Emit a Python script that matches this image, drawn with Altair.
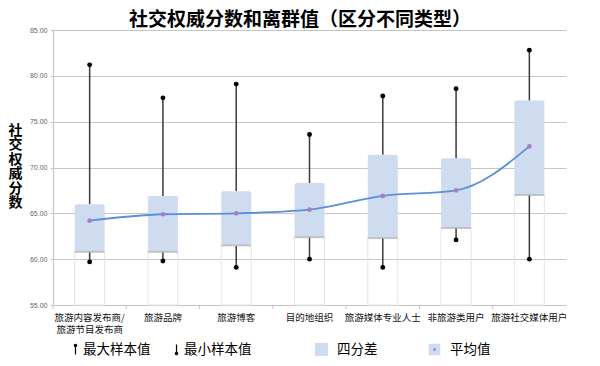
import altair as alt
import pandas as pd

cats = ["旅游内容发布商/旅游节目发布商", "旅游品牌", "旅游博客", "目的地组织",
        "旅游媒体专业人士", "非旅游类用户", "旅游社交媒体用户"]
max_vals = [81.2, 77.6, 79.1, 73.6, 77.8, 78.6, 82.8]
q3_vals = [66.0, 66.9, 67.4, 68.3, 71.4, 71.0, 77.3]
q1_vals = [60.8, 60.8, 61.5, 62.4, 62.3, 63.4, 67.0]
min_vals = [59.7, 59.8, 59.1, 60.0, 59.1, 62.1, 60.0]
mean_vals = [64.2, 64.9, 65.0, 65.4, 66.9, 67.5, 72.3]
y_ticks = [55, 60, 65, 70, 75, 80, 85]
legend_items = ["最大样本值", "最小样本值", "四分差", "平均值"]

df = pd.DataFrame({
    "cat": cats, "max": max_vals, "q3": q3_vals, "q1": q1_vals,
    "min": min_vals, "mean": mean_vals, "floor": [55] * len(cats),
})
leg_df = pd.DataFrame({"item": legend_items})

FONT = "Noto Sans CJK SC"
BOX = "#cfdcf0"
PURPLE = "#a47fc8"

x_enc = alt.X(
    "cat:N", sort=cats, title=None,
    scale=alt.Scale(paddingInner=0, paddingOuter=0, range=[0, 513]),
    axis=alt.Axis(
        labelAngle=0, labelFontSize=9.5, labelColor="#111", labelFont=FONT,
        labelBaseline="middle", labelPadding=12, ticks=False,
        domainColor="#c6c6c6", domainWidth=1.2, grid=False,
        labelLimit=120, labelLineHeight=12,
        labelExpr="datum.value == '旅游内容发布商/旅游节目发布商' ? ['旅游内容发布商/', '旅游节目发布商'] : datum.value",
    ),
)
y_scale = alt.Scale(domain=[55, 85], nice=False, zero=False)
y_axis = alt.Axis(
    values=y_ticks, format=".2f", labelFontSize=7, labelColor="#666",
    labelPadding=3, tickSize=3, tickColor="#c6c6c6", gridColor="#c6c6c6",
    gridWidth=1.2, domainColor="#c6c6c6", domainWidth=1.2,
    title=list("社交权威分数"), titleAngle=0, titleFont=FONT, titleFontSize=14,
    titleFontWeight="bold", titleColor="#000", titleLineHeight=14.5,
    titleX=-38, titleY=93, titleAlign="center", titleBaseline="top",
)

base = alt.Chart(df)

floor_bar = base.mark_bar(size=30, fill=None, stroke="#e4e4e4", strokeWidth=1).encode(
    x=x_enc, y=alt.Y("floor:Q", scale=y_scale, axis=y_axis), y2="q1:Q")
band_ticks = base.mark_rule(color="#c6c6c6", strokeWidth=1).encode(
    x=alt.X("cat:N", sort=cats, bandPosition=0), y=alt.value(275), y2=alt.value(279))
whisk_up = base.mark_rule(color="#3a3a3a", strokeWidth=1.5).encode(
    x=x_enc, y="q3:Q", y2="max:Q")
whisk_dn = base.mark_rule(color="#3a3a3a", strokeWidth=1.5).encode(
    x=x_enc, y="min:Q", y2="q1:Q")
box = base.mark_bar(size=30, color=BOX, cornerRadius=2).encode(
    x=x_enc, y="q1:Q", y2="q3:Q")
box_bot = base.mark_tick(size=30, thickness=2, color="#b4b4b4").encode(
    x=x_enc, y="q1:Q")
dot_max = base.mark_circle(size=24, color="#000", opacity=1).encode(x=x_enc, y="max:Q")
dot_min = base.mark_circle(size=24, color="#000", opacity=1).encode(x=x_enc, y="min:Q")
mean_line = base.mark_line(color="#5b8fd8", strokeWidth=1.8, interpolate="monotone").encode(
    x=x_enc, y="mean:Q")
mean_pts = base.mark_circle(size=22, color=PURPLE, opacity=1).encode(x=x_enc, y="mean:Q")

pin_up = ("M0,-1.15 A0.35,0.35 0 1,1 0,-0.45 A0.35,0.35 0 1,1 0,-1.15 Z "
          "M-0.12,-0.8 L0.12,-0.8 L0.12,1 L-0.12,1 Z")
pin_dn = ("M0,1.15 A0.35,0.35 0 1,1 0,0.45 A0.35,0.35 0 1,1 0,1.15 Z "
          "M-0.12,0.8 L-0.12,-1 L0.12,-1 L0.12,0.8 Z")
sq_box = "M-0.85,-0.85 L0.85,-0.85 L0.85,0.85 L-0.85,0.85 Z"
sq_mean = "M-0.7,-0.7 L0.7,-0.7 L0.7,0.7 L-0.7,0.7 Z"

# one legend per item so each can be placed like the reference
leg_specs = [
    (legend_items[0], "#000", pin_up, "transparent", 15, 0),
    (legend_items[1], "#000", pin_dn, "transparent", 116, 0),
    (legend_items[2], BOX, sq_box, BOX, 261, 8),
    (legend_items[3], PURPLE, sq_mean, BOX, 374, 8),
]
leg_layers = []
for lab, fill_c, shp, stroke_c, lx, loff in leg_specs:
    lg = alt.Legend(
        title=None, orient="none", legendX=lx, legendY=312,
        labelFont=FONT, labelFontSize=13.5, labelColor="#000",
        symbolSize=100, symbolStrokeWidth=4.5, symbolOpacity=1, labelOffset=loff,
    )
    leg_layers.append(
        alt.Chart(leg_df).transform_filter(alt.datum.item == lab)
        .transform_filter("datum.item == 'none'")
        .mark_point(filled=True, strokeWidth=4.5).encode(
            fill=alt.Fill("item:N", legend=lg,
                          scale=alt.Scale(domain=[lab], range=[fill_c])),
            shape=alt.Shape("item:N", legend=lg,
                            scale=alt.Scale(domain=[lab], range=[shp])),
            stroke=alt.Stroke("item:N", legend=lg,
                              scale=alt.Scale(domain=[lab], range=[stroke_c])),
        )
    )

chart = alt.layer(
    floor_bar, band_ticks, whisk_up, whisk_dn, box, box_bot, dot_max, dot_min,
    mean_line, mean_pts, *leg_layers,
).resolve_scale(
    fill="independent", shape="independent", stroke="independent"
).properties(
    width=520, height=275,
    title=alt.TitleParams("社交权威分数和离群值（区分不同类型）", font=FONT,
                          fontSize=19, fontWeight="bold", color="#000",
                          anchor="middle", dx=-13, dy=9, offset=5),
    autosize=alt.AutoSizeParams(type="none"),
    padding={"left": 45, "top": 22, "right": 19, "bottom": 53},
).configure_view(stroke=None)

chart.save("out.html", embed_options={"renderer": "svg", "actions": False})
